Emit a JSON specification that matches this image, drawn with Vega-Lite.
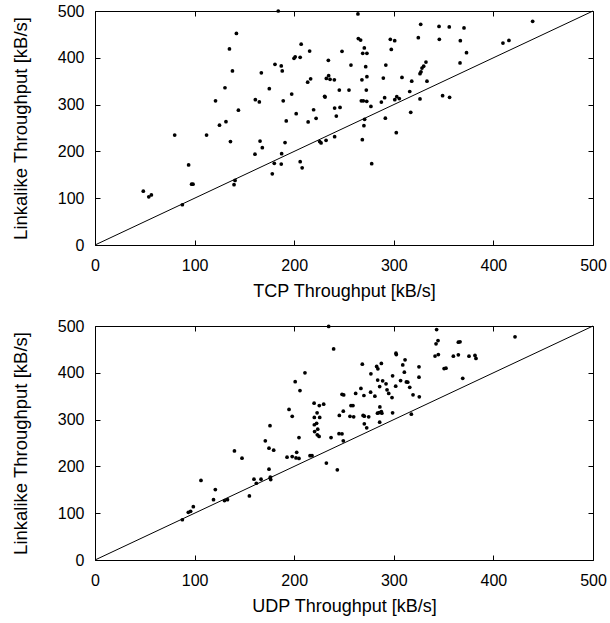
{
  "$schema": "https://vega.github.io/schema/vega-lite/v6.json",
  "padding": {"left": 10, "top": 2, "right": 10, "bottom": 5},
  "background": "white",
  "spacing": 81,
  "bounds": "flush",
  "datasets": {
    "tcp": [
      {"x":184,"y":500},{"x":142,"y":452},{"x":135,"y":419},{"x":138,"y":372},{"x":130.5,"y":336},{"x":121,"y":308},{"x":144,"y":288},{"x":125,"y":256},{"x":131.5,"y":263.5},{"x":80,"y":235},
      {"x":112,"y":235},{"x":136,"y":221},{"x":94,"y":171},{"x":97,"y":130},{"x":98.4,"y":130},{"x":48.5,"y":115},{"x":54,"y":103},{"x":56.6,"y":107},{"x":87.7,"y":86},{"x":140.6,"y":138},
      {"x":139.6,"y":129},{"x":160.6,"y":194},{"x":165.7,"y":222},{"x":168,"y":208},{"x":161,"y":310.5},{"x":165,"y":305.6},{"x":167,"y":368},{"x":175,"y":334},{"x":180.7,"y":386},{"x":187,"y":382.5},
      {"x":188,"y":372},{"x":189,"y":308},{"x":192,"y":265},{"x":190.8,"y":219},{"x":187.4,"y":195},{"x":180,"y":174.5},{"x":187,"y":173},{"x":178,"y":152},{"x":197.5,"y":322.6},{"x":199.8,"y":399},
      {"x":201,"y":402},{"x":206,"y":401},{"x":207,"y":429},{"x":215.5,"y":414.5},{"x":202,"y":280.6},{"x":213.5,"y":348},{"x":216.5,"y":355},{"x":214,"y":263},{"x":219.5,"y":289},{"x":222,"y":270.7},
      {"x":206,"y":178},{"x":208,"y":165},{"x":225.6,"y":221},{"x":227,"y":218},{"x":232,"y":223.6},{"x":240.6,"y":231.5},{"x":230.6,"y":317.7},{"x":231,"y":316},{"x":234.3,"y":394.6},{"x":234.6,"y":361.8},
      {"x":232.3,"y":356},{"x":236,"y":354},{"x":240.3,"y":353},{"x":240.6,"y":292.7},{"x":246,"y":294},{"x":242.3,"y":275.6},{"x":245.3,"y":331},{"x":248,"y":413.8},{"x":255,"y":331},{"x":257,"y":384.6},
      {"x":264,"y":493.6},{"x":264.4,"y":441},{"x":266.7,"y":438},{"x":270.4,"y":421},{"x":268.8,"y":409.5},{"x":273,"y":409.5},{"x":271.8,"y":381},{"x":268,"y":353},{"x":273,"y":359.7},{"x":272.4,"y":331},
      {"x":267.4,"y":308},{"x":269.4,"y":308},{"x":272.8,"y":307},{"x":277,"y":296},{"x":270.7,"y":268.5},{"x":270,"y":255},{"x":268.4,"y":225},{"x":277.8,"y":173.8},{"x":289.5,"y":356.8},{"x":292,"y":384.6},
      {"x":296.5,"y":439.5},{"x":300.9,"y":436.6},{"x":297.5,"y":418},{"x":287.5,"y":305.5},{"x":290.8,"y":314.8},{"x":291.5,"y":271},{"x":301,"y":310.5},{"x":303,"y":317},{"x":305.5,"y":313},{"x":302.5,"y":240},
      {"x":308.2,"y":358},{"x":316,"y":328},{"x":318,"y":350},{"x":317,"y":283.5},{"x":326.3,"y":312},{"x":324.6,"y":443},{"x":327,"y":471.5},{"x":326.3,"y":366},{"x":327.3,"y":370},{"x":328.3,"y":378},
      {"x":330,"y":382},{"x":332.3,"y":391},{"x":333.3,"y":350},{"x":345.4,"y":467},{"x":345.7,"y":439.5},{"x":355.7,"y":466},{"x":349,"y":319},{"x":356,"y":315.5},{"x":366.8,"y":436.6},{"x":370.5,"y":463.7},
      {"x":373,"y":411},{"x":366.5,"y":389},{"x":409.6,"y":431.6},{"x":415.6,"y":437},{"x":439.4,"y":478}
    ],
    "udp": [
      {"x":234.6,"y":499},{"x":239.6,"y":451},{"x":210.8,"y":400},{"x":201,"y":381},{"x":205.8,"y":362},{"x":194.8,"y":321.6},{"x":198,"y":307},{"x":175.7,"y":287},{"x":171,"y":254.6},{"x":174.7,"y":239},
      {"x":179.4,"y":234.7},{"x":140,"y":233},{"x":147.6,"y":217.5},{"x":106.4,"y":170},{"x":120.8,"y":150.6},{"x":119,"y":129},{"x":130,"y":127},{"x":133,"y":129},{"x":93.7,"y":102},{"x":96,"y":104},
      {"x":98.7,"y":114},{"x":87.7,"y":86},{"x":155,"y":137},{"x":159.6,"y":172.6},{"x":162,"y":164},{"x":166.7,"y":172.6},{"x":174.7,"y":194},{"x":176,"y":177},{"x":176.4,"y":172},{"x":192.8,"y":219.7},
      {"x":198,"y":221},{"x":201.8,"y":218},{"x":204.8,"y":217},{"x":202.5,"y":230},{"x":204.8,"y":261.7},{"x":215.9,"y":223},{"x":217.9,"y":223},{"x":220,"y":335},{"x":223,"y":314.5},{"x":225.2,"y":330},
      {"x":229.6,"y":333},{"x":220.2,"y":304.5},{"x":225.6,"y":304.5},{"x":220.2,"y":289},{"x":222.5,"y":292},{"x":220.5,"y":274.5},{"x":223.6,"y":279.6},{"x":223.2,"y":267.5},{"x":225,"y":264},{"x":232.3,"y":207},
      {"x":237,"y":261.7},{"x":243.3,"y":192.7},{"x":245,"y":270},{"x":248,"y":269.5},{"x":249.3,"y":254.6},{"x":245.3,"y":308.8},{"x":249.3,"y":318},{"x":248,"y":354},{"x":249.7,"y":352.6},{"x":256,"y":307},
      {"x":257,"y":330},{"x":259,"y":330},{"x":259.7,"y":306},{"x":261.7,"y":355.8},{"x":267,"y":366.5},{"x":270,"y":351.5},{"x":268.4,"y":418.4},{"x":269.2,"y":308.8},{"x":270.4,"y":307.3},{"x":274.8,"y":306},
      {"x":270.4,"y":291},{"x":272.8,"y":282.4},{"x":276.7,"y":358.6},{"x":277,"y":397.8},{"x":281,"y":350},{"x":282.8,"y":413.5},{"x":284,"y":408.5},{"x":287.5,"y":420},{"x":283.8,"y":384.4},{"x":285.8,"y":370.7},
      {"x":288.8,"y":382.8},{"x":292.2,"y":376.4},{"x":293.2,"y":363.6},{"x":294.9,"y":355.8},{"x":298.2,"y":347},{"x":298.8,"y":393.5},{"x":301.9,"y":371.4},{"x":302.2,"y":441.9},{"x":302.5,"y":439},{"x":306.8,"y":383.5},
      {"x":309,"y":416.9},{"x":311.3,"y":427.7},{"x":310.6,"y":401.3},{"x":312.6,"y":380.6},{"x":314,"y":380},{"x":316,"y":369},{"x":319.3,"y":352.9},{"x":325.3,"y":412.7},{"x":325.3,"y":390.6},{"x":325.6,"y":348.6},
      {"x":317.6,"y":311.6},{"x":283.6,"y":313.8},{"x":285.3,"y":315},{"x":287.5,"y":317},{"x":288,"y":313.8},{"x":285.8,"y":294.5},{"x":298.8,"y":314.5},{"x":286,"y":327},{"x":343,"y":492.3},{"x":344.4,"y":469},
      {"x":342.4,"y":462},{"x":341.4,"y":435.8},{"x":344.7,"y":439},{"x":350.5,"y":409},{"x":352.4,"y":409.8},{"x":359.8,"y":435.5},{"x":364.8,"y":438.4},{"x":364.8,"y":465.5},{"x":366.5,"y":466.2},{"x":369.2,"y":388.3},
      {"x":375.5,"y":435.5},{"x":381.5,"y":437},{"x":382.5,"y":430.8},{"x":421.7,"y":476.8}
    ],
    "diag": [{"v":0},{"v":500}]
  },
  "config": {
    "view": {"stroke": "black", "strokeWidth": 1},
    "font": "Liberation Sans",
    "axis": {
      "grid": false, "domain": false, "tickColor": "black", "tickSize": -5, "tickWidth": 1,
      "labelColor": "black", "labelFont": "Liberation Sans", "labelFontSize": 16,
      "titleFont": "Liberation Sans", "titleFontSize": 18, "titleFontWeight": "normal", "titleColor": "black",
      "labelFlush": false
    }
  },
  "vconcat": [
    {
      "width": 498, "height": 234,
      "layer": [
        {"data": {"name": "tcp"}, "mark": {"type": "circle", "size": 14, "color": "black", "opacity": 1},
         "encoding": {
           "x": {"field": "x", "type": "quantitative", "scale": {"domain": [0,500], "nice": false}, "axis": {"title": "TCP Throughput [kB/s]", "values": [0,100,200,300,400,500], "labelPadding": 17, "titlePadding": 9}},
           "y": {"field": "y", "type": "quantitative", "scale": {"domain": [0,500], "nice": false}, "axis": {"title": "Linkalike Throughput [kB/s]", "titleFontSize": 18.5, "values": [0,100,200,300,400,500], "labelPadding": 16, "titlePadding": 27}}}},
        {"data": {"name": "diag"}, "mark": {"type": "line", "color": "black", "strokeWidth": 1},
         "encoding": {
           "x": {"field": "v", "type": "quantitative", "axis": {"orient": "top", "labels": false, "title": null, "values": [0,100,200,300,400,500]}},
           "y": {"field": "v", "type": "quantitative", "axis": {"orient": "right", "labels": false, "title": null, "values": [0,100,200,300,400,500]}}}}
      ],
      "resolve": {"axis": {"x": "independent", "y": "independent"}}
    },
    {
      "width": 498, "height": 234,
      "layer": [
        {"data": {"name": "udp"}, "mark": {"type": "circle", "size": 14, "color": "black", "opacity": 1},
         "encoding": {
           "x": {"field": "x", "type": "quantitative", "scale": {"domain": [0,500], "nice": false}, "axis": {"title": "UDP Throughput [kB/s]", "values": [0,100,200,300,400,500], "labelPadding": 17, "titlePadding": 9}},
           "y": {"field": "y", "type": "quantitative", "scale": {"domain": [0,500], "nice": false}, "axis": {"title": "Linkalike Throughput [kB/s]", "titleFontSize": 18.5, "values": [0,100,200,300,400,500], "labelPadding": 16, "titlePadding": 27}}}},
        {"data": {"name": "diag"}, "mark": {"type": "line", "color": "black", "strokeWidth": 1},
         "encoding": {
           "x": {"field": "v", "type": "quantitative", "axis": {"orient": "top", "labels": false, "title": null, "values": [0,100,200,300,400,500]}},
           "y": {"field": "v", "type": "quantitative", "axis": {"orient": "right", "labels": false, "title": null, "values": [0,100,200,300,400,500]}}}}
      ],
      "resolve": {"axis": {"x": "independent", "y": "independent"}}
    }
  ]
}
